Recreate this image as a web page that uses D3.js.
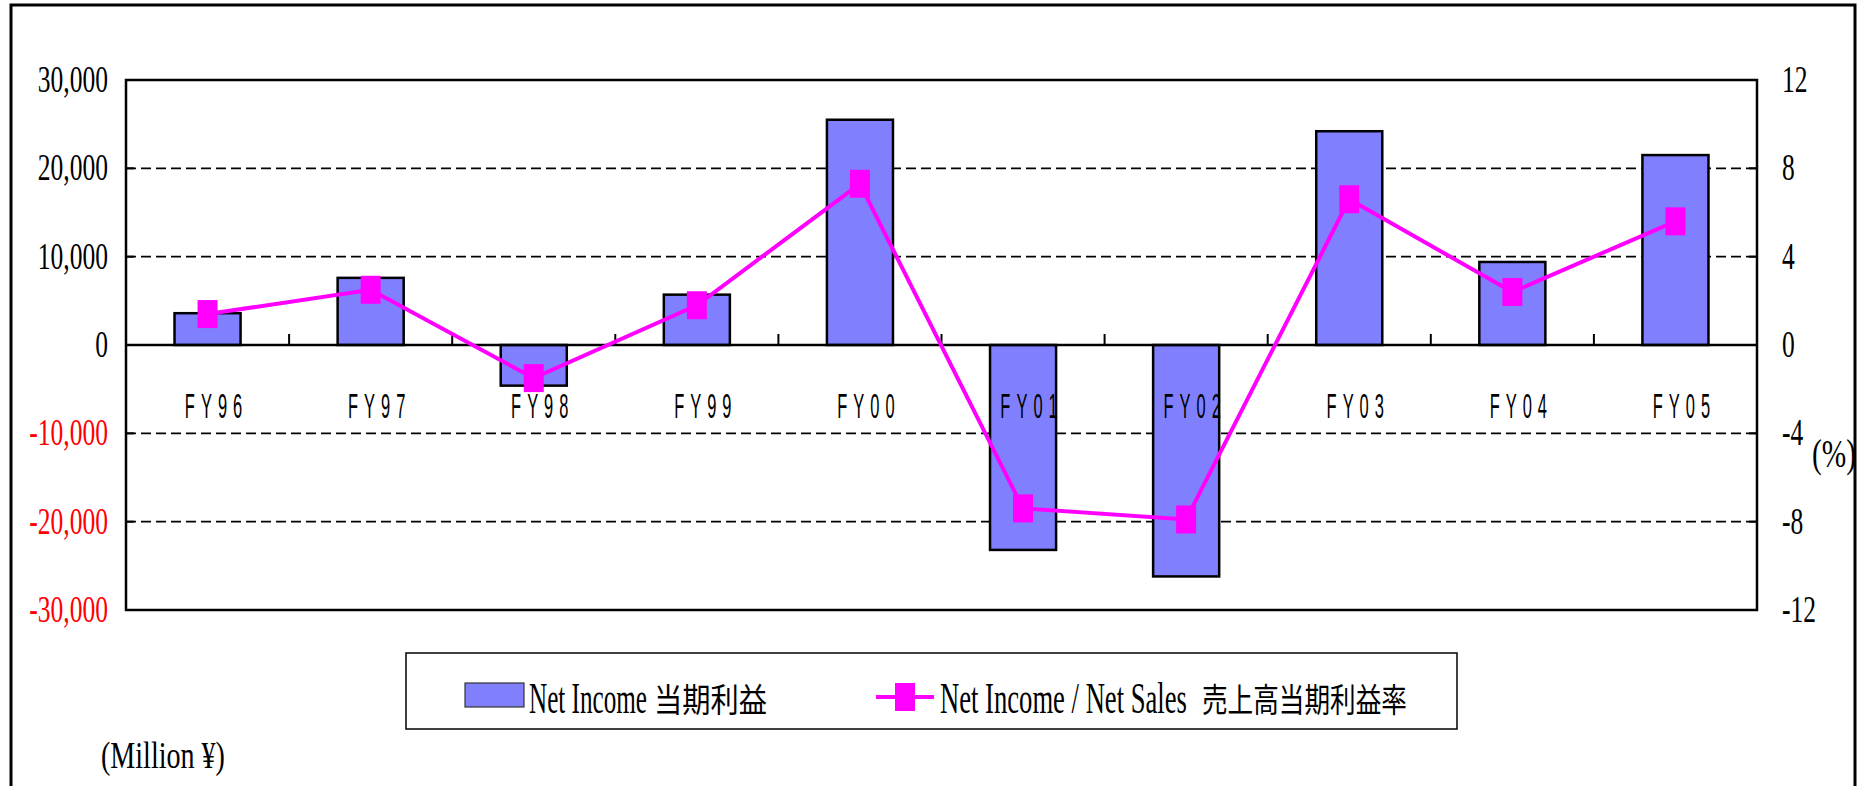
<!DOCTYPE html>
<html>
<head>
<meta charset="utf-8">
<script src="https://cdn.jsdelivr.net/npm/d3@7/dist/d3.min.js"></script>
<style>
  html, body { margin: 0; padding: 0; background: #fff; }
  svg { display: block; }
</style>
</head>
<body>
<svg id="chart" width="1867" height="786"></svg>
<script>
// ---- data ----
const categories = ["FY96", "FY97", "FY98", "FY99", "FY00", "FY01", "FY02", "FY03", "FY04", "FY05"];
const netIncome = [3600, 7600, -4600, 5700, 25500, -23200, -26200, 24200, 9400, 21500];
const incomeRatio = [1.4, 2.5, -1.5, 1.8, 7.3, -7.4, -7.9, 6.6, 2.4, 5.6];
const leftTicks = [30000, 20000, 10000, 0, -10000, -20000, -30000];
const rightTicks = [12, 8, 4, 0, -4, -8, -12];
const gridValues = [20000, 10000, -10000, -20000];
const legendBarLabel = "Net Income";
const legendBarLabelJa = "当期利益";
const legendLineLabel = "Net Income / Net Sales";
const legendLineLabelJa = "売上高当期利益率";
const unitLeft = "(Million ¥)";
const unitRight = "(%)";

// ---- layout ----
const W = 1867, H = 786;
const plot = { left: 126, right: 1757, top: 80, bottom: 610 };
const SERIF = "'Liberation Serif', 'Times New Roman', Times, serif";
const SANS = "'Liberation Sans', Arial, sans-serif";
const CJK = "'Noto Sans CJK JP', 'Noto Sans CJK SC', sans-serif";
const BAR_FILL = "#8080FF";
const LINE_COL = "#FF00FF";
const SX = 0.69; // horizontal compression of text in the original

const svg = d3.select("#chart");
svg.append("rect").attr("width", W).attr("height", H).attr("fill", "#fff");

// outer frame (bottom edge lies outside the picture)
svg.append("rect").attr("x", 11).attr("y", 5).attr("width", 1844).attr("height", 820)
  .attr("fill", "none").attr("stroke", "#000").attr("stroke-width", 3);

const x = d3.scaleBand().domain(categories).range([plot.left, plot.right]).padding(0);
const yL = d3.scaleLinear().domain([-30000, 30000]).range([plot.bottom, plot.top]);
const yR = d3.scaleLinear().domain([-12, 12]).range([plot.bottom, plot.top]);
const barW = x.bandwidth() * 0.405;

// helper: horizontally compressed text; if opts.width given, fit to that width
function ctext(g, txt, px, py, opts) {
  const grp = g.append("g");
  const t = grp.append("text")
    .attr("x", 0).attr("y", 0)
    .style("font-family", opts.family || SERIF)
    .style("font-size", (opts.size || 37) + "px")
    .attr("fill", opts.fill || "#000")
    .attr("text-anchor", opts.anchor || "start")
    .text(txt);
  if (opts.ls) t.style("letter-spacing", opts.ls + "px");
  let sx = opts.sx || SX;
  if (opts.width) {
    const w = t.node().getBBox().width;
    if (w > 0) sx = opts.width / w;
  }
  grp.attr("transform", `translate(${px},${py}) scale(${sx},1)`);
  return t;
}

// gridlines
svg.append("g").selectAll("line").data(gridValues).join("line")
  .attr("x1", plot.left).attr("x2", plot.right)
  .attr("y1", d => yL(d)).attr("y2", d => yL(d))
  .attr("stroke", "#000").attr("stroke-width", 1.6).attr("stroke-dasharray", "10,5");

// bars
svg.append("g").selectAll("rect").data(categories).join("rect")
  .attr("x", (d) => x(d) + x.bandwidth() / 2 - barW / 2)
  .attr("y", (d, i) => Math.min(yL(netIncome[i]), yL(0)))
  .attr("width", barW)
  .attr("height", (d, i) => Math.abs(yL(netIncome[i]) - yL(0)))
  .attr("fill", BAR_FILL).attr("stroke", "#000").attr("stroke-width", 2.5);

// plot frame
svg.append("rect").attr("x", plot.left).attr("y", plot.top)
  .attr("width", plot.right - plot.left).attr("height", plot.bottom - plot.top)
  .attr("fill", "none").attr("stroke", "#000").attr("stroke-width", 2.5);

// zero line
svg.append("line").attr("x1", plot.left).attr("x2", plot.right)
  .attr("y1", yL(0)).attr("y2", yL(0)).attr("stroke", "#000").attr("stroke-width", 2.5);

// category boundary ticks (pointing up from the zero line)
svg.append("g").selectAll("line").data(categories.slice(1)).join("line")
  .attr("x1", d => x(d)).attr("x2", d => x(d))
  .attr("y1", yL(0)).attr("y2", yL(0) - 11)
  .attr("stroke", "#000").attr("stroke-width", 2);

// value axis ticks (inside)
svg.append("g").selectAll("line").data(leftTicks).join("line")
  .attr("x1", plot.left).attr("x2", plot.left + 8)
  .attr("y1", d => yL(d)).attr("y2", d => yL(d))
  .attr("stroke", "#000").attr("stroke-width", 2);
svg.append("g").selectAll("line").data(rightTicks).join("line")
  .attr("x1", plot.right - 8).attr("x2", plot.right)
  .attr("y1", d => yR(d)).attr("y2", d => yR(d))
  .attr("stroke", "#000").attr("stroke-width", 2);

// left tick labels
const fmt = d3.format(",");
const gl = svg.append("g");
leftTicks.forEach(v => {
  ctext(gl, fmt(v).replace("−", "-"), 108, yL(v) + 12,
    { anchor: "end", size: 37, fill: v < 0 ? "#FF0000" : "#000" });
});
// right tick labels
const gr = svg.append("g");
rightTicks.forEach(v => {
  ctext(gr, String(v), 1782, yR(v) + 12, { anchor: "start", size: 37 });
});

// category labels
const gc = svg.append("g");
categories.forEach(c => {
  ctext(gc, c, x(c) + x.bandwidth() / 2 + 9, 418,
    { anchor: "middle", size: 35, family: SANS, sx: 0.47, ls: 12.8 });
});

// ratio line
const lineGen = d3.line()
  .x((d, i) => x(categories[i]) + x.bandwidth() / 2)
  .y(d => yR(d));
svg.append("path").datum(incomeRatio).attr("d", lineGen)
  .attr("fill", "none").attr("stroke", LINE_COL).attr("stroke-width", 4)
  .attr("stroke-linejoin", "miter");
svg.append("g").selectAll("rect").data(incomeRatio).join("rect")
  .attr("x", (d, i) => x(categories[i]) + x.bandwidth() / 2 - 10)
  .attr("y", d => yR(d) - 14)
  .attr("width", 20).attr("height", 28)
  .attr("fill", LINE_COL);

// unit labels
ctext(svg, unitLeft, 101, 768, { size: 38, width: 124 });
ctext(svg, unitRight, 1812, 467, { size: 40, width: 44 });

// legend
const lg = svg.append("g");
lg.append("rect").attr("x", 406).attr("y", 653).attr("width", 1051).attr("height", 76)
  .attr("fill", "#fff").attr("stroke", "#000").attr("stroke-width", 1.5);
lg.append("rect").attr("x", 465).attr("y", 683).attr("width", 59).attr("height", 24)
  .attr("fill", BAR_FILL).attr("stroke", "#333").attr("stroke-width", 1.2);
ctext(lg, legendBarLabel, 529, 713, { size: 44, width: 118 });
ctext(lg, legendBarLabelJa, 654, 712, { size: 33, family: CJK, width: 113 });
lg.append("line").attr("x1", 876).attr("x2", 934).attr("y1", 697).attr("y2", 697)
  .attr("stroke", LINE_COL).attr("stroke-width", 4);
lg.append("rect").attr("x", 895).attr("y", 683).attr("width", 20).attr("height", 28)
  .attr("fill", LINE_COL);
ctext(lg, legendLineLabel, 940, 713, { size: 44, width: 247 });
ctext(lg, legendLineLabelJa, 1202, 712, { size: 33, family: CJK, width: 205 });
</script>
</body>
</html>
